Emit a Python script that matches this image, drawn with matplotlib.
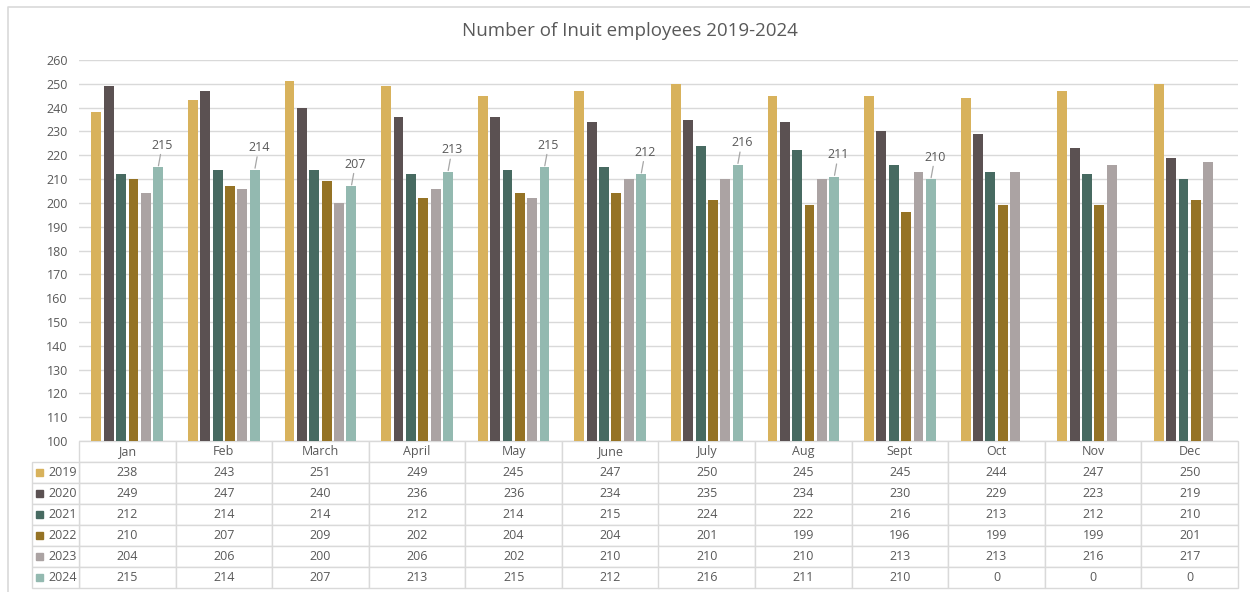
import numpy as np
import matplotlib
matplotlib.use("Agg")
import matplotlib.pyplot as plt
from matplotlib.lines import Line2D
from matplotlib.patches import Rectangle

plt.rcParams['font.family'] = ['Open Sans', 'DejaVu Sans']

months = ["Jan", "Feb", "March", "April", "May", "June", "July", "Aug", "Sept", "Oct", "Nov", "Dec"]
years = ["2019", "2020", "2021", "2022", "2023", "2024"]
v2019 = [238, 243, 251, 249, 245, 247, 250, 245, 245, 244, 247, 250]
v2020 = [249, 247, 240, 236, 236, 234, 235, 234, 230, 229, 223, 219]
v2021 = [212, 214, 214, 212, 214, 215, 224, 222, 216, 213, 212, 210]
v2022 = [210, 207, 209, 202, 204, 204, 201, 199, 196, 199, 199, 201]
v2023 = [204, 206, 200, 206, 202, 210, 210, 210, 213, 213, 216, 217]
v2024 = [215, 214, 207, 213, 215, 212, 216, 211, 210, 0, 0, 0]
series = [v2019, v2020, v2021, v2022, v2023, v2024]
colors = ["#D8B25C", "#5B5152", "#476A61", "#957325", "#ABA3A3", "#93B9B0"]
TXT = "#595959"
GRID = "#D9D9D9"

W, H = 1250, 592
fig = plt.figure(figsize=(W / 100, H / 100), dpi=100)
# outer chart border (left and top visible)
fig.lines.append(Line2D([7.5 / W, 7.5 / W, 1.0], [0, 1 - 6.5 / H, 1 - 6.5 / H],
                        transform=fig.transFigure, color=GRID, linewidth=1.2))

ax_l, ax_r, ax_t, ax_b = 79, 1238, 60, 441
ax = fig.add_axes([ax_l / W, 1 - ax_b / H, (ax_r - ax_l) / W, (ax_b - ax_t) / H])
axw = ax_r - ax_l
axh = ax_b - ax_t

x = np.arange(len(months))
slot = 0.128
bw = 0.102
for i, (vals, c) in enumerate(zip(series, colors)):
    off = (i - 2.5) * slot
    ax.bar(x + off, vals, width=bw, color=c, zorder=3)
    if i == 5:
        for xi, v in zip(x, vals):
            if v > 0:
                ax.annotate(str(v), xy=(xi + off, v), xytext=(4, 22), textcoords="offset pixels",
                            ha="center", va="center", fontsize=9, color=TXT,
                            arrowprops=dict(arrowstyle="-", color="#A6A6A6", lw=0.9,
                                            shrinkA=0, shrinkB=1))

ax.set_xlim(-0.5, len(months) - 0.5)
ax.set_ylim(100, 260)
ax.set_yticks(np.arange(100, 261, 10))
ax.yaxis.grid(True, color=GRID, linewidth=1, zorder=0)
ax.set_axisbelow(True)
ax.tick_params(axis="y", length=0, labelsize=9, labelcolor=TXT, pad=8)
ax.set_xticks([])
for s in ax.spines.values():
    s.set_visible(False)

fig.text(630 / W, 1 - 31 / H, "Number of Inuit employees 2019-2024", fontsize=13.5,
         color=TXT, ha="center", va="center")

# data table
cell_text = [[str(v) for v in vals] for vals in series]
tbl_top, tbl_bot = 441, 588
lab_l = 32
lab_w = ax_l - lab_l
tb_h = (tbl_bot - tbl_top) / axh
nrows = len(years) + 1
rh = tb_h / nrows

tbl = ax.table(cellText=cell_text, colLabels=months, cellLoc="center",
               bbox=[0, -tb_h, 1, tb_h])
tbl.auto_set_font_size(False)
tbl.set_fontsize(9)

lab_tbl = ax.table(cellText=[[y] for y in years], cellLoc="right",
                   bbox=[-lab_w / axw, -tb_h, lab_w / axw, tb_h - rh])
lab_tbl.auto_set_font_size(False)
lab_tbl.set_fontsize(9)

for t in (tbl, lab_tbl):
    for (r, c), cell in t.get_celld().items():
        cell.set_edgecolor(GRID)
        cell.set_linewidth(1)
        cell.get_text().set_color(TXT)
for cell in lab_tbl.get_celld().values():
    cell.PAD = 0.04

for i, c in enumerate(colors):
    yc = -(i + 1.5) * rh
    sq = 7
    ax.add_patch(Rectangle(((36 - ax_l) / axw, yc - (sq / 2) / axh), sq / axw, sq / axh,
                           transform=ax.transAxes, color=c, clip_on=False, zorder=5))

fig.savefig("out.png", dpi=100)
